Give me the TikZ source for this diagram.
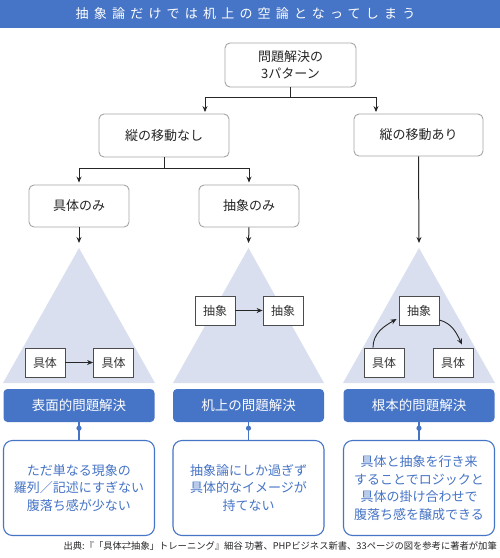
\documentclass[tikz,border=0pt]{standalone}
\usepackage{fontspec}
\setmainfont{Noto Sans CJK JP}
\newfontfamily\titlefont[LetterSpace=40]{Noto Sans CJK JP}
\usetikzlibrary{arrows.meta}
\definecolor{myblue}{RGB}{70,116,198}
\definecolor{tri}{RGB}{217,223,238}
\definecolor{boxgray}{RGB}{165,165,165}
\begin{document}
\begin{tikzpicture}[x=1pt,y=-1pt,
  gbox/.style={draw=boxgray,rounded corners=5pt,fill=white,line width=0.9pt,
    font=\fontsize{13}{17}\selectfont,text=black!85,align=center,inner sep=0pt},
  sbox/.style={draw=black!70,fill=white,line width=0.8pt,minimum width=40pt,
    minimum height=29pt,inner sep=0pt,font=\fontsize{12}{14}\selectfont,text=black!80},
  bar/.style={fill=myblue,rounded corners=4pt,text=white,minimum width=151pt,
    minimum height=33pt,inner sep=0pt,font=\fontsize{13.5}{16}\selectfont},
  rbox/.style={draw=myblue,rounded corners=9pt,line width=1.1pt,text=myblue,fill=white,
    minimum width=151pt,minimum height=95pt,inner sep=0pt,align=center,
    font=\fontsize{13}{17.8}\selectfont},
  arr/.style={-{Stealth[length=6pt,width=5pt]},line width=1pt,draw=black!85},
  ln/.style={line width=1pt,draw=black!85},
  tria/.style={fill=tri,draw=none},
  dotline/.style={draw=myblue,line width=1.1pt},
]
\useasboundingbox (0,0) rectangle (500,558);
% title bar
\fill[myblue] (0,0) rectangle (500,28);
\node[text=white,font=\titlefont\fontsize{13}{15}\selectfont] (title) at (245.5,14) {抽象論だけでは机上の空論となってしまう};

% boxes
\node[gbox,minimum width=131pt,minimum height=44pt] (top) at (290.5,65) {問題解決の\\3パターン};
\node[gbox,minimum width=130pt,minimum height=43pt] (n1) at (164,135.5) {縦の移動なし};
\node[gbox,minimum width=129pt,minimum height=42pt] (n2) at (418.5,135) {縦の移動あり};
\node[gbox,minimum width=100pt,minimum height=42pt] (g1) at (79,206) {具体のみ};
\node[gbox,minimum width=100pt,minimum height=42pt] (g2) at (249,206) {抽象のみ};

% connectors
\coordinate (j0) at (290.5,97.7);
\draw[ln] (top.south) -- (j0);
\draw[arr] (j0) -| ([xshift=41pt,yshift=1.5pt]n1.north);
\draw[arr] (j0) -| ([xshift=-42.5pt,yshift=1.5pt]n2.north);
\coordinate (j1) at (164,168.5);
\draw[ln] (n1.south) -- (j1);
\draw[arr] (j1) -| ([yshift=2pt]g1.north);
\draw[arr] (j1) -| ([yshift=2pt]g2.north);

% triangles
\coordinate (t1) at (79,248);
\coordinate (t2) at (248.5,248);
\coordinate (t3) at (419,248);
\fill[tria] (t1) -- (3,383) -- (155,383) -- cycle;
\fill[tria] (t2) -- (173,383) -- (324,383) -- cycle;
\fill[tria] (t3) -- (343,383) -- (495,383) -- cycle;
\draw[arr] (g1.south) -- ([yshift=5pt]t1);
\draw[arr] (g2.south) -- ([yshift=5pt]t2);
\draw[arr] (n2.south) -- ([yshift=5pt]t3);

% small boxes
\node[sbox] (lk1) at (45,362.5) {具体};
\node[sbox] (lk2) at (113.5,362.5) {具体};
\draw[arr,line width=0.9pt] (lk1) -- (lk2);
\node[sbox] (ma1) at (215,310.5) {抽象};
\node[sbox] (ma2) at (283,310.5) {抽象};
\draw[arr,line width=0.9pt] (ma1) -- (ma2);
\node[sbox] (ra) at (419,310.5) {抽象};
\node[sbox] (rk1) at (384,362.5) {具体};
\node[sbox] (rk2) at (453,362.5) {具体};
\draw[arr,line width=0.9pt] ([xshift=-11pt]rk1.north) to[out=90,in=210] ([xshift=-2pt,yshift=-8.5pt]ra.west);
\draw[arr,line width=0.9pt] ([yshift=-9.5pt]ra.east) to[out=-15,in=115] ([xshift=9pt,yshift=3pt]rk2.north);

% bars
\node[bar] (b1) at (79,405.5) {表面的問題解決};
\node[bar] (b2) at (248.5,405.5) {机上の問題解決};
\node[bar] (b3) at (419,405.5) {根本的問題解決};

% result boxes
\node[rbox] (r1) at (79,488) {ただ単なる現象の\\羅列／記述にすぎない\\腹落ち感が少ない};
\node[rbox] (r2) at (248.5,488) {抽象論にしか過ぎず\\具体的なイメージが\\持てない};
\node[rbox] (r3) at (419,488) {具体と抽象を行き来\\することでロジックと\\具体の掛け合わせで\\腹落ち感を醸成できる};

\foreach \b/\r in {b1/r1,b2/r2,b3/r3}{
  \draw[dotline] (\b.south) -- (\r.north);
  \fill[myblue] ([yshift=-6pt]\b.south) circle (2.6pt);
}

% source
\node[anchor=east,inner sep=0pt,font=\fontsize{9.3}{11}\selectfont,text=black!85] (src) at (497,545.5) {出典:『「具体⇄抽象」トレーニング』細谷 功著、PHPビジネス新書、33ページの図を参考に著者が加筆};
\end{tikzpicture}
\end{document}
